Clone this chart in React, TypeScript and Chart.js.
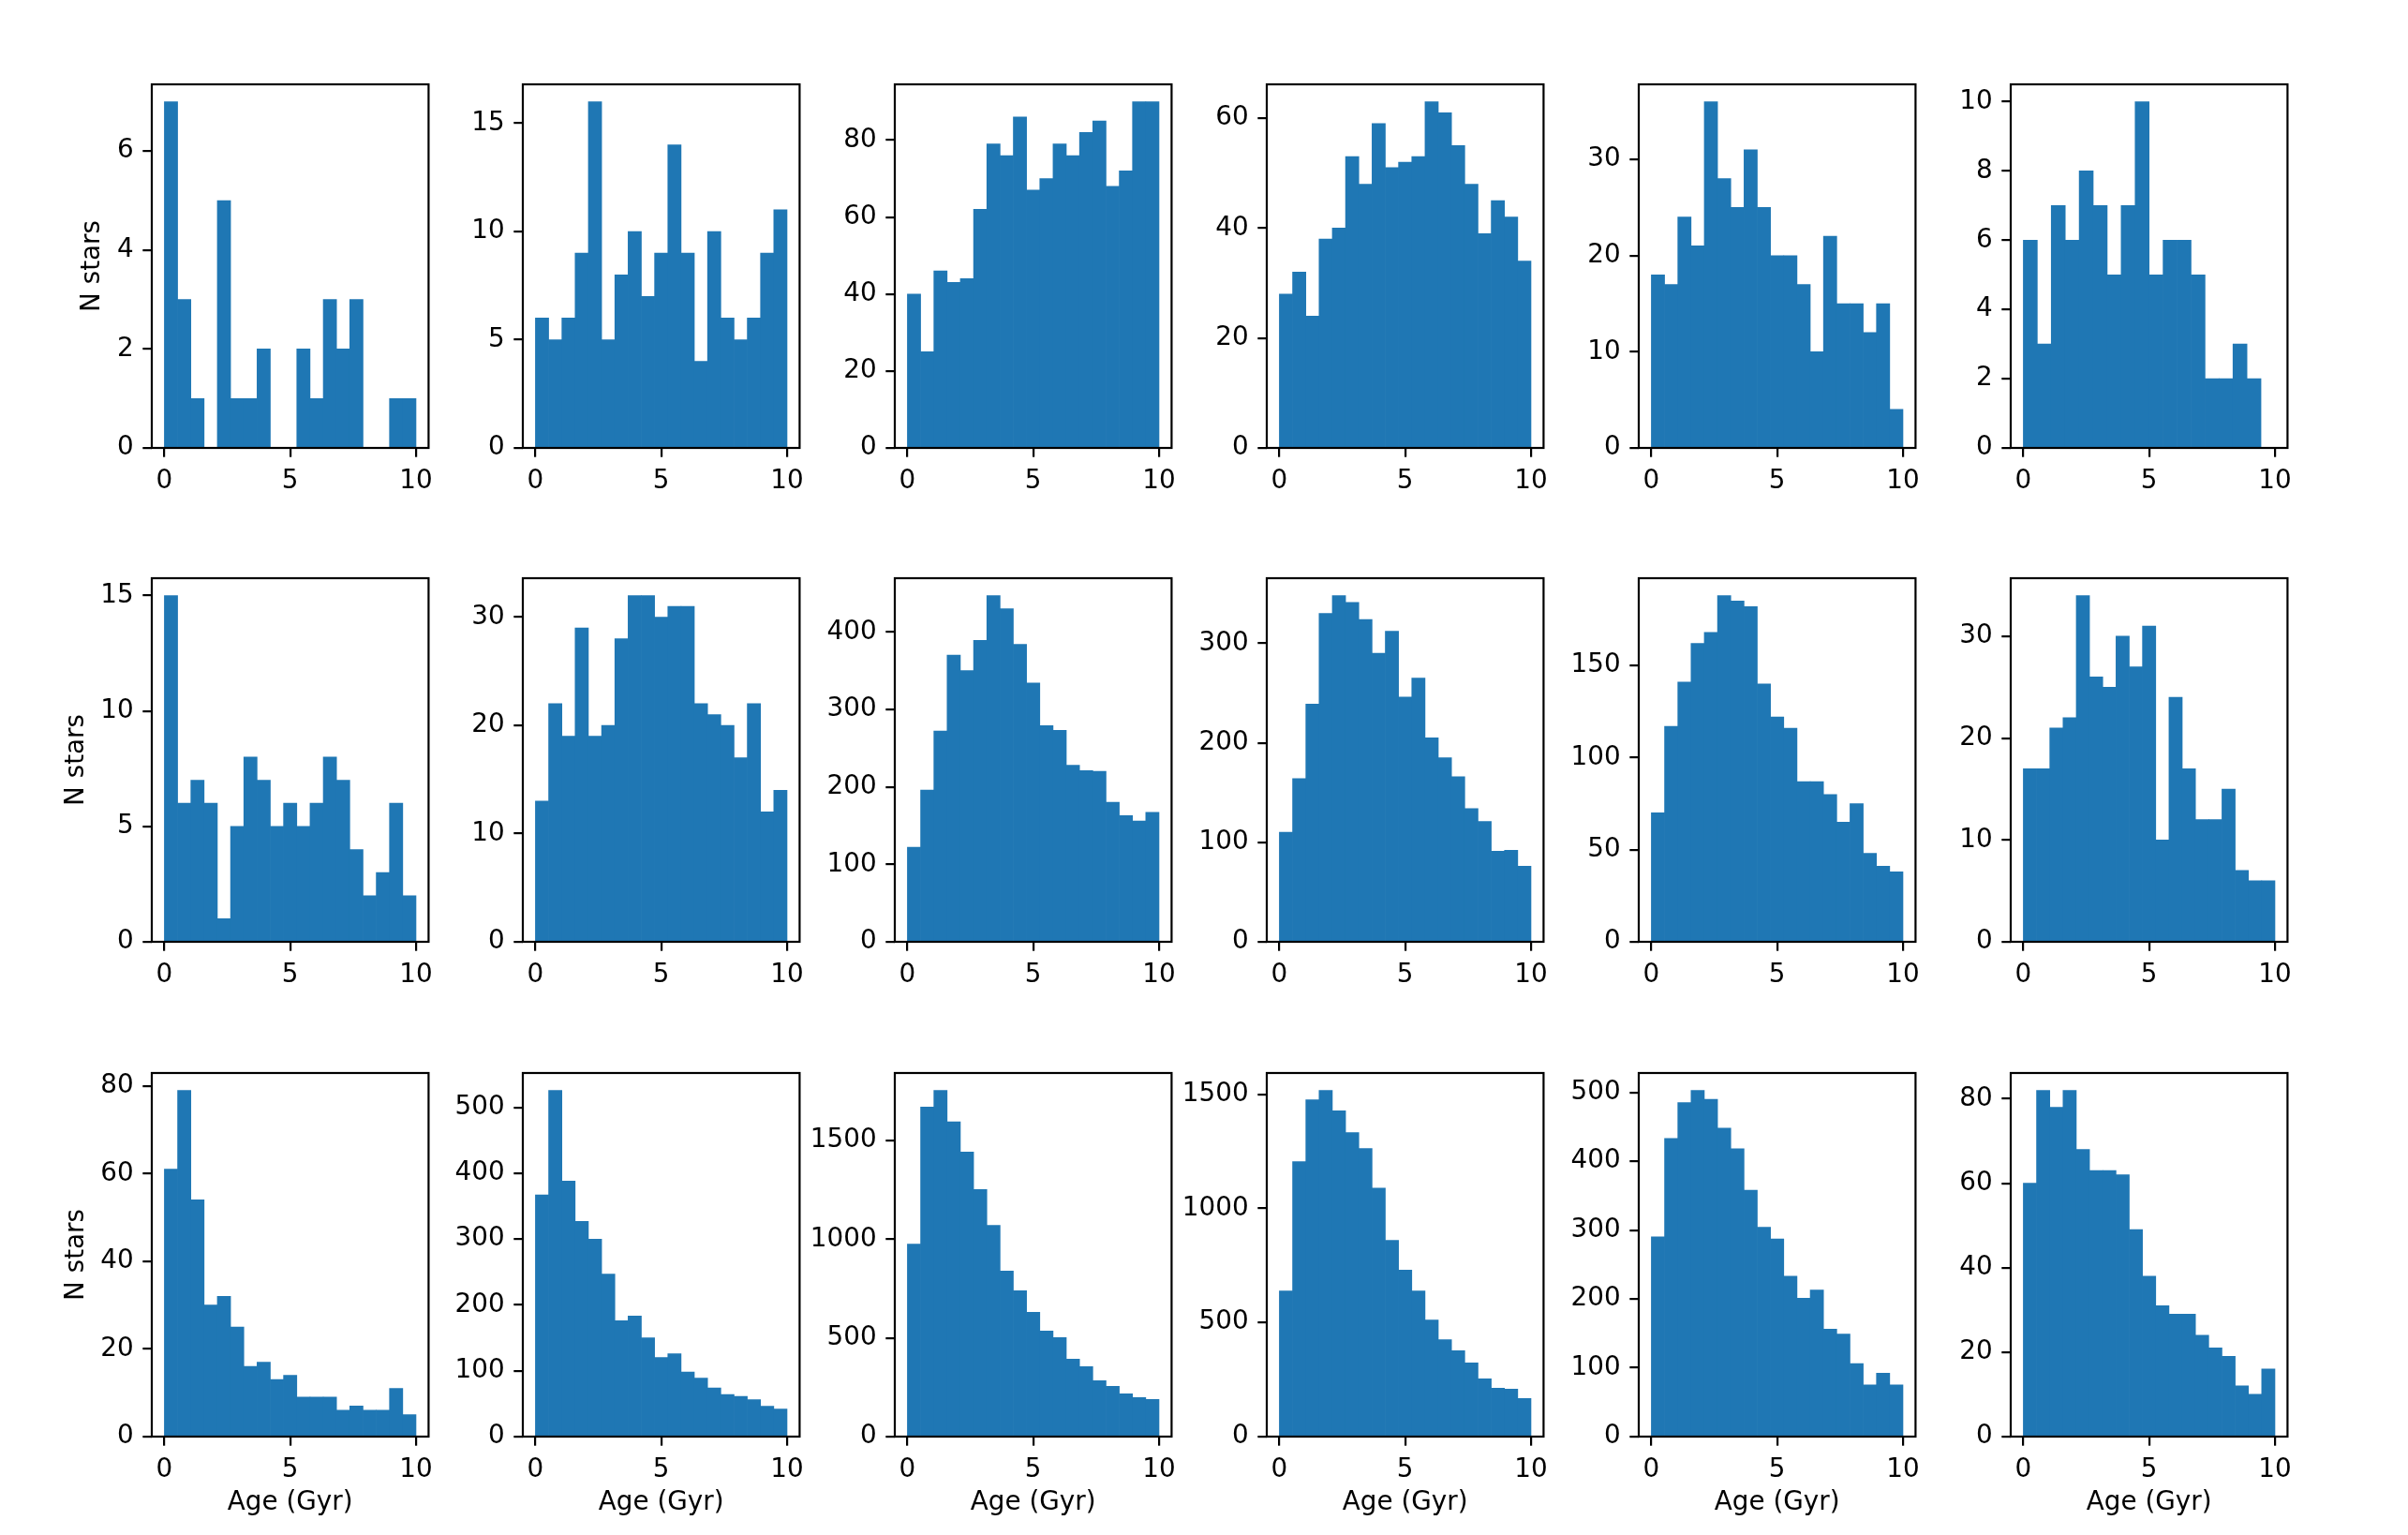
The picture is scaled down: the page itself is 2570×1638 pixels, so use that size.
import { useEffect, useRef } from "react";
import { Chart, registerables } from "chart.js";

Chart.register(...registerables);

// Stellar age histograms, counts per bin (bins span 0-10 Gyr evenly).
const r1c1 = [7, 3, 1, 0, 5, 1, 1, 2, 0, 0, 2, 1, 3, 2, 3, 0, 0, 1, 1];
const r1c2 = [6, 5, 6, 9, 16, 5, 8, 10, 7, 9, 14, 9, 4, 10, 6, 5, 6, 9, 11];
const r1c3 = [40, 25, 46, 43, 44, 62, 79, 76, 86, 67, 70, 79, 76, 82, 85, 68, 72, 90, 90];
const r1c4 = [28, 32, 24, 38, 40, 53, 48, 59, 51, 52, 53, 63, 61, 55, 48, 39, 45, 42, 34];
const r1c5 = [18, 17, 24, 21, 36, 28, 25, 31, 25, 20, 20, 17, 10, 22, 15, 15, 12, 15, 4];
const r1c6 = [6, 3, 7, 6, 8, 7, 5, 7, 10, 5, 6, 6, 5, 2, 2, 3, 2, 0];

const r2c1 = [15, 6, 7, 6, 1, 5, 8, 7, 5, 6, 5, 6, 8, 7, 4, 2, 3, 6, 2];
const r2c2 = [13, 22, 19, 29, 19, 20, 28, 32, 32, 30, 31, 31, 22, 21, 20, 17, 22, 12, 14];
const r2c3 = [122, 196, 272, 370, 350, 389, 447, 430, 384, 334, 279, 273, 228, 221, 220, 180, 163, 156, 167];
const r2c4 = [110, 164, 239, 330, 348, 341, 324, 290, 312, 246, 265, 205, 185, 166, 134, 121, 91, 92, 76];
const r2c5 = [70, 117, 141, 162, 168, 188, 185, 182, 140, 122, 116, 87, 87, 80, 65, 75, 48, 41, 38];
const r2c6 = [17, 17, 21, 22, 34, 26, 25, 30, 27, 31, 10, 24, 17, 12, 12, 15, 7, 6, 6];

const r3c1 = [61, 79, 54, 30, 32, 25, 16, 17, 13, 14, 9, 9, 9, 6, 7, 6, 6, 11, 5];
const r3c2 = [367, 526, 388, 327, 300, 247, 176, 183, 150, 120, 126, 98, 89, 74, 64, 61, 56, 46, 42];
const r3c3 = [976, 1670, 1755, 1595, 1442, 1252, 1071, 839, 739, 630, 535, 502, 393, 355, 283, 255, 217, 198, 188];
const r3c4 = [638, 1205, 1476, 1517, 1427, 1332, 1262, 1089, 860, 729, 638, 511, 425, 376, 323, 253, 212, 208, 167];
const r3c5 = [290, 433, 485, 503, 490, 448, 418, 358, 304, 287, 233, 201, 213, 156, 149, 106, 75, 92, 75];
const r3c6 = [60, 82, 78, 82, 68, 63, 63, 62, 49, 38, 31, 29, 29, 24, 21, 19, 12, 10, 16];

const rows = [
  [r1c1, r1c2, r1c3, r1c4, r1c5, r1c6],
  [r2c1, r2c2, r2c3, r2c4, r2c5, r2c6],
  [r3c1, r3c2, r3c3, r3c4, r3c5, r3c6],
];

const yTicks = [
  [[0, 2, 4, 6], [0, 5, 10, 15], [0, 20, 40, 60, 80], [0, 20, 40, 60], [0, 10, 20, 30], [0, 2, 4, 6, 8, 10]],
  [[0, 5, 10, 15], [0, 10, 20, 30], [0, 100, 200, 300, 400], [0, 100, 200, 300], [0, 50, 100, 150], [0, 10, 20, 30]],
  [[0, 20, 40, 60, 80], [0, 100, 200, 300, 400, 500], [0, 500, 1000, 1500], [0, 500, 1000, 1500], [0, 100, 200, 300, 400, 500], [0, 20, 40, 60, 80]],
];

const ageTicks = [0, 5, 10];
const AGE_MIN = 0;
const AGE_MAX = 10;

const BLUE = "#1f77b4";
const FONT = "'DejaVu Sans', sans-serif";
const FONT_SIZE = 27.8; // 10pt at 200 dpi
const LINE = 2.2; // 0.8pt
const TICK = 9.7; // 3.5pt

// Axes boxes in page pixels.
const COL_LEFT = [162, 558, 955, 1352, 1749, 2146];
const ROW_TOP = [90, 617, 1145];
const AX_W = 296;
const AX_H = 388;
const Y_AXIS_W = 130;
const X_AXIS_H = 100;
const PAD_T = 40;
const PAD_R = 14;

const framePlugin = {
  id: "frame",
  afterDraw(chart: Chart) {
    const { ctx, chartArea } = chart;
    const { left, top, right, bottom } = chartArea;
    ctx.save();
    ctx.strokeStyle = "#000";
    ctx.lineWidth = LINE;
    ctx.strokeRect(left, top, right - left, bottom - top);
    ctx.restore();
  },
};

function Histogram({
  counts,
  ticks,
  left,
  top,
  yTitleOffset,
  xTitle,
}: {
  counts: number[];
  ticks: number[];
  left: number;
  top: number;
  yTitleOffset: number | null;
  xTitle: boolean;
}) {
  const canvasRef = useRef<HTMLCanvasElement>(null);

  useEffect(() => {
    const canvas = canvasRef.current;
    if (!canvas) return;

    const width = (AGE_MAX - AGE_MIN) / counts.length;
    const data = counts.map((c, i) => ({ x: AGE_MIN + (i + 0.5) * width, y: c }));
    const span = AGE_MAX - AGE_MIN;
    const font = { family: FONT, size: FONT_SIZE };
    const lineHalf = (FONT_SIZE * 1.2) / 2;
    const axisGrid = {
      display: true,
      drawOnChartArea: false,
      drawTicks: true,
      offset: false,
      tickLength: TICK,
      color: "#000",
      lineWidth: LINE,
    };

    const chart = new Chart(canvas.getContext("2d")!, {
      type: "bar",
      data: {
        datasets: [
          {
            data,
            backgroundColor: BLUE,
            borderWidth: 0,
            barPercentage: 1,
            categoryPercentage: 1,
          },
        ],
      },
      options: {
        animation: false,
        responsive: true,
        maintainAspectRatio: false,
        events: [],
        layout: { padding: { left: 0, top: PAD_T, right: PAD_R, bottom: 0 } },
        plugins: { legend: { display: false }, tooltip: { enabled: false } },
        scales: {
          x: {
            type: "linear",
            min: AGE_MIN - span * 0.05,
            max: AGE_MAX + span * 0.05,
            offset: false,
            afterBuildTicks: (s) => {
              s.ticks = ageTicks.map((v) => ({ value: v }));
            },
            afterFit: (s) => {
              s.height = X_AXIS_H;
            },
            ticks: {
              color: "#000",
              font,
              padding: TICK,
              maxRotation: 0,
              autoSkip: false,
              callback: (v) => String(v),
            },
            grid: axisGrid,
            border: { display: false },
            title: {
              display: xTitle,
              text: "Age (Gyr)",
              color: "#000",
              font,
              padding: { top: 0, bottom: X_AXIS_H - 70.5 - lineHalf },
            },
          },
          y: {
            type: "linear",
            min: 0,
            max: Math.max(...counts) * 1.05,
            afterBuildTicks: (s) => {
              s.ticks = ticks.map((v) => ({ value: v }));
            },
            afterFit: (s) => {
              s.width = Y_AXIS_W;
            },
            ticks: {
              color: "#000",
              font,
              padding: TICK,
              callback: (v) => String(v),
            },
            grid: axisGrid,
            border: { display: false },
            title: {
              display: yTitleOffset !== null,
              text: "N stars",
              color: "#000",
              font,
              padding: { top: Y_AXIS_W - (yTitleOffset ?? 0) - lineHalf, bottom: 0 },
            },
          },
        },
      },
      plugins: [framePlugin],
    });

    return () => chart.destroy();
  }, [counts, ticks, yTitleOffset, xTitle]);

  return (
    <div
      style={{
        position: "absolute",
        left: left - Y_AXIS_W,
        top: top - PAD_T,
        width: Y_AXIS_W + AX_W + PAD_R,
        height: PAD_T + AX_H + X_AXIS_H,
      }}
    >
      <canvas ref={canvasRef} />
    </div>
  );
}

export default function App() {
  return (
    <div
      style={{
        position: "absolute",
        left: 0,
        top: 0,
        width: 2570,
        height: 1638,
        background: "#fff",
        overflow: "hidden",
      }}
    >
      {rows.map((row, r) =>
        row.map((counts, c) => (
          <Histogram
            key={`${r}-${c}`}
            counts={counts}
            ticks={yTicks[r][c]}
            left={COL_LEFT[c]}
            top={ROW_TOP[r]}
            yTitleOffset={c === 0 ? (r === 0 ? 63 : 80) : null}
            xTitle={r === rows.length - 1}
          />
        ))
      )}
    </div>
  );
}
